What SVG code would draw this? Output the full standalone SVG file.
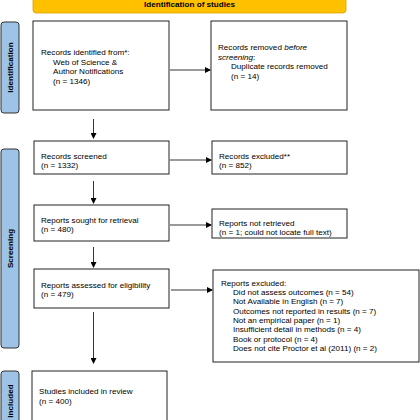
<svg xmlns="http://www.w3.org/2000/svg" width="420" height="420" viewBox="0 0 420 420">
<defs>
<marker id="ah" markerWidth="6" markerHeight="6" refX="5" refY="3" orient="auto" markerUnits="userSpaceOnUse">
<path d="M0,0 L6,3 L0,6 Z" fill="#000"/>
</marker>
<style>
.box{fill:#fff;stroke:#222;stroke-width:1}
.side{fill:#9DC3E6;stroke:#333;stroke-width:1}
.t{font-family:"Liberation Sans",Arial,sans-serif;font-size:8.1px;fill:#000}
.st{font-family:"Liberation Sans",Arial,sans-serif;font-size:8.1px;font-weight:bold;fill:#000}
.c{stroke:#000;stroke-width:0.8;fill:none;marker-end:url(#ah)}
</style>
</defs>
<rect width="420" height="420" fill="#fff"/>
<g id="banner">
<rect x="33" y="-8" width="313" height="21" rx="3" fill="#FFC000" stroke="#D9A300" stroke-width="0.8"/>
<text class="st" x="189.5" y="7" text-anchor="middle">Identification of studies</text>
</g>
<g id="side-identification">
<rect class="side" x="1" y="22" width="18" height="91" rx="3"/>
<text class="st" transform="translate(13,67.5) rotate(-90)" text-anchor="middle">Identification</text>
</g>
<g id="side-screening">
<rect class="side" x="1" y="149" width="18" height="199" rx="3"/>
<text class="st" transform="translate(13,248.5) rotate(-90)" text-anchor="middle">Screening</text>
</g>
<g id="side-included">
<rect class="side" x="1" y="371" width="18" height="60" rx="3"/>
<text class="st" transform="translate(13,401) rotate(-90)" text-anchor="middle">Included</text>
</g>
<g id="records-identified">
<rect class="box" x="33" y="21" width="136" height="89"/>
<text class="t" x="41" y="55">Records identified from*:</text>
<text class="t" x="53" y="64.5">Web of Science &amp;</text>
<text class="t" x="53" y="74">Author Notifications</text>
<text class="t" x="53" y="83.5">(n = 1346)</text>
</g>
<g id="records-removed">
<rect class="box" x="211" y="21" width="136" height="89"/>
<text class="t" x="218" y="50">Records removed <tspan font-style="italic">before</tspan></text>
<text class="t" x="218" y="59.5"><tspan font-style="italic">screening</tspan>:</text>
<text class="t" x="231" y="69">Duplicate records removed</text>
<text class="t" x="231" y="78.5">(n = 14)</text>
</g>
<g id="records-screened">
<rect class="box" x="34" y="141" width="135" height="33"/>
<text class="t" x="41" y="158.5">Records screened</text>
<text class="t" x="41" y="168">(n = 1332)</text>
</g>
<g id="records-excluded">
<rect class="box" x="212" y="141" width="135" height="33"/>
<text class="t" x="219" y="158.5">Records excluded**</text>
<text class="t" x="219" y="168">(n = 852)</text>
</g>
<g id="reports-sought">
<rect class="box" x="34" y="205" width="135" height="36"/>
<text class="t" x="41" y="222.5">Reports sought for retrieval</text>
<text class="t" x="41" y="232">(n = 480)</text>
</g>
<g id="reports-not-retrieved">
<rect class="box" x="212" y="209" width="135" height="29"/>
<text class="t" x="219" y="226">Reports not retrieved</text>
<text class="t" x="219" y="235">(n = 1; could not locate full text)</text>
</g>
<g id="reports-assessed">
<rect class="box" x="34" y="269" width="135" height="39"/>
<text class="t" x="41" y="287.5">Reports assessed for eligibility</text>
<text class="t" x="41" y="297">(n = 479)</text>
</g>
<g id="reports-excluded">
<rect class="box" x="213" y="270" width="206" height="92"/>
<text class="t" x="221" y="285.5">Reports excluded:</text>
<text class="t" x="233" y="295">Did not assess outcomes (n = 54)</text>
<text class="t" x="233" y="304.3">Not Available in English (n = 7)</text>
<text class="t" x="233" y="313.6">Outcomes not reported in results (n = 7)</text>
<text class="t" x="233" y="322.9">Not an empirical paper (n = 1)</text>
<text class="t" x="233" y="332.2">Insufficient detail in methods (n = 4)</text>
<text class="t" x="233" y="341.5">Book or protocol (n = 4)</text>
<text class="t" x="233" y="350.8">Does not cite Proctor et al (2011) (n = 2)</text>
</g>
<g id="studies-included">
<rect class="box" x="32" y="371" width="135" height="60"/>
<text class="t" x="39" y="394">Studies included in review</text>
<text class="t" x="39" y="403.5">(n = 400)</text>
</g>
<g id="connectors">
<line class="c" x1="170" y1="70" x2="210" y2="70"/>
<line class="c" x1="93.5" y1="119" x2="93.5" y2="138"/>
<line class="c" x1="170" y1="160" x2="211" y2="160"/>
<line class="c" x1="93.5" y1="181" x2="93.5" y2="203"/>
<line class="c" x1="170" y1="225" x2="211" y2="225"/>
<line class="c" x1="93.5" y1="247" x2="93.5" y2="267"/>
<line class="c" x1="171" y1="290" x2="212" y2="290"/>
<line class="c" x1="93.5" y1="312" x2="93.5" y2="363"/>
</g>
</svg>
